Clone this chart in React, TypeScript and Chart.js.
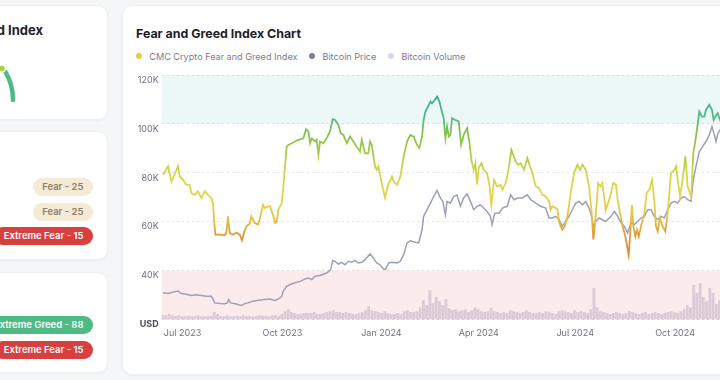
import React, { useEffect, useRef } from 'react';
import { Chart, registerables } from 'chart.js';

Chart.register(...registerables);

// ---------- data ----------
const START_DATE = '2023-06-29';
const X_MAX_DAY = 527;

const xTickDates = ['2023-07-01', '2023-10-01', '2024-01-01', '2024-04-01', '2024-07-01', '2024-10-01'];
const xTickLabels = ['Jul 2023', 'Oct 2023', 'Jan 2024', 'Apr 2024', 'Jul 2024', 'Oct 2024'];

// CMC Crypto Fear and Greed Index (days since START_DATE, index value)
const indexDays = [
  1.2, 5.9, 9.0, 10.5, 15.2, 16.8, 19.9, 23.0, 26.1, 27.6, 30.7, 33.8, 37.0, 40.1, 43.2, 46.3, 47.8, 48.8, 50.0, 54.0,
  58.7, 60.3, 61.8, 63.4, 66.5, 69.6, 72.7, 74.9, 76.7, 78.9, 82.0, 83.6, 86.7, 89.8, 91.3, 94.5, 96.0, 99.1, 101.0, 104.1,
  105.7, 107.2, 108.8, 111.9, 113.4, 116.5, 118.1, 121.2, 124.3, 127.4, 132.1, 134.6, 136.7, 138.3, 139.9, 143.0, 144.5, 146.1, 147.6, 150.7,
  153.8, 156.9, 159.4, 161.6, 164.7, 166.9, 169.4, 172.5, 175.6, 178.7, 181.8, 184.9, 186.5, 189.6, 192.7, 194.2, 195.8, 198.9, 200.4, 202.0,
  205.1, 208.2, 211.0, 213.2, 214.7, 216.3, 219.4, 222.5, 225.6, 228.7, 231.8, 234.9, 238.0, 240.2, 242.7, 244.2, 245.8, 248.3, 250.5, 252.0,
  254.5, 256.7, 258.9, 261.3, 262.9, 264.5, 266.0, 267.6, 269.1, 270.7, 273.8, 276.9, 279.1, 281.5, 284.7, 286.8, 288.7, 290.9, 292.4, 294.0,
  295.5, 298.0, 300.2, 303.3, 305.5, 307.3, 309.8, 312.9, 316.0, 317.6, 320.7, 323.8, 326.0, 327.8, 330.0, 332.2, 334.7, 337.8, 340.9, 343.4,
  345.5, 348.7, 351.8, 354.9, 358.0, 361.1, 362.6, 364.2, 367.3, 368.9, 370.4, 372.0, 373.5, 375.7, 378.2, 381.3, 384.4, 387.5, 390.0, 392.2,
  395.3, 398.4, 400.6, 402.4, 403.7, 405.5, 406.8, 409.3, 410.8, 412.4, 413.9, 416.7, 418.9, 421.0, 423.5, 425.1, 427.3, 429.7, 432.2, 435.3,
  436.6, 438.4, 439.7, 441.6, 443.1, 444.7, 446.8, 450.0, 452.1, 454.6, 457.1, 459.3, 460.8, 462.4, 464.5, 467.0, 469.5, 471.7, 474.8, 477.9,
  479.5, 481.0, 483.2, 485.7, 488.2, 490.3, 493.5, 495.6, 498.1, 501.2, 503.7, 505.9, 507.4, 510.5, 513.0, 514.6, 516.1, 518.3, 520.5, 523.0,
];
const indexValues = [
  59.2, 62.6, 56.5, 57.8, 62.6, 58.5, 57.1, 55.1, 55.1, 51.7, 51.0, 52.4, 49.7, 52.4, 51.0, 49.7, 47.6, 40.8, 34.7, 34.7,
  34.4, 35.4, 42.2, 35.4, 34.7, 35.6, 34.7, 32.4, 35.4, 38.1, 39.2, 42.2, 39.5, 38.8, 40.8, 46.9, 45.6, 46.3, 46.3, 42.2,
  39.5, 40.1, 44.9, 47.6, 54.4, 70.7, 71.4, 72.1, 72.8, 73.5, 74.1, 77.8, 76.9, 72.1, 74.1, 72.8, 73.5, 67.3, 72.8, 72.1,
  74.1, 76.9, 81.9, 81.6, 79.6, 76.2, 75.5, 72.1, 74.8, 72.8, 70.7, 68.7, 73.5, 68.0, 68.0, 72.8, 71.4, 62.6, 61.2, 62.6,
  55.8, 49.7, 55.1, 57.1, 58.5, 56.5, 55.1, 58.5, 66.7, 72.8, 75.5, 74.8, 71.4, 70.1, 74.8, 81.6, 85.0, 87.1, 89.1, 88.4,
  89.8, 91.2, 89.1, 85.0, 82.3, 74.1, 78.9, 74.8, 75.5, 82.3, 81.6, 81.0, 71.4, 75.5, 78.2, 72.8, 65.3, 61.2, 63.9, 55.1,
  61.9, 63.9, 61.2, 59.9, 55.1, 46.9, 57.0, 54.4, 55.1, 53.1, 55.8, 62.6, 69.4, 67.3, 64.6, 63.3, 63.9, 61.2, 66.0, 62.6,
  59.9, 54.4, 53.7, 51.0, 50.3, 48.3, 44.9, 46.3, 45.6, 44.9, 40.1, 38.1, 36.7, 38.1, 42.2, 51.7, 59.9, 63.3, 61.2, 63.3,
  61.2, 54.4, 44.9, 32.7, 38.1, 47.6, 55.8, 54.4, 55.8, 50.3, 44.9, 48.3, 51.7, 55.8, 55.1, 49.0, 43.5, 38.1, 34.0, 26.5,
  34.0, 46.9, 38.1, 34.0, 36.7, 34.0, 38.1, 43.5, 51.7, 53.1, 57.1, 48.3, 38.1, 36.1, 41.5, 38.1, 36.1, 43.5, 59.9, 61.2,
  62.6, 57.1, 50.3, 57.1, 66.7, 54.4, 50.3, 68.0, 74.8, 85.0, 83.0, 83.0, 85.7, 87.8, 85.7, 81.6, 83.0, 84.4, 81.6, 83.0,
];

// Bitcoin price, thousand USD (days since START_DATE)
const priceDays = [
  1.2, 5.9, 10.5, 15.2, 18.3, 23.0, 27.6, 32.3, 37.0, 41.6, 46.3, 47.8, 49.4, 54.0, 58.7, 61.2, 62.4, 64.3, 68.0, 71.1,
  74.3, 77.4, 80.5, 85.1, 89.8, 96.0, 100.7, 105.7, 108.8, 111.9, 113.4, 116.5, 119.6, 124.3, 129.0, 133.6, 136.7, 139.9, 143.0, 147.6,
  153.8, 157.5, 159.4, 161.6, 164.7, 167.8, 170.9, 174.0, 177.1, 180.2, 183.3, 186.5, 189.6, 194.2, 197.3, 200.4, 203.5, 206.7, 208.5, 211.6,
  214.7, 219.4, 222.5, 225.6, 228.7, 231.8, 236.5, 239.6, 242.7, 244.2, 247.4, 250.5, 253.6, 256.7, 259.8, 262.0, 264.5, 266.0, 269.1, 272.2,
  275.3, 278.4, 281.5, 284.7, 287.8, 290.9, 294.0, 297.1, 300.2, 303.3, 306.4, 308.0, 310.5, 314.5, 317.6, 322.2, 325.3, 328.4, 331.6, 336.2,
  340.9, 344.0, 348.7, 353.3, 358.0, 361.1, 364.2, 367.3, 370.4, 373.5, 376.6, 379.7, 382.8, 386.0, 389.1, 392.2, 395.3, 398.4, 400.6, 402.4,
  404.6, 407.7, 410.8, 413.9, 418.9, 422.0, 425.1, 428.2, 431.3, 434.4, 437.5, 440.6, 443.7, 446.8, 450.0, 453.1, 456.2, 459.3, 462.4, 465.5,
  468.6, 471.7, 474.8, 477.9, 481.0, 484.1, 487.2, 490.3, 493.5, 495.6, 498.1, 501.2, 504.3, 507.4, 510.5, 513.0, 515.2, 516.8, 518.6, 520.5,
  523.0,
];
const priceValues = [
  30.9, 30.6, 31.2, 31.6, 30.6, 30.3, 29.8, 30.1, 29.8, 29.5, 29.5, 28.4, 26.8, 26.5, 26.4, 26.8, 28.2, 26.8, 26.5, 26.1,
  25.7, 26.5, 26.8, 27.5, 27.9, 28.2, 28.4, 27.8, 28.4, 29.5, 31.6, 33.6, 34.3, 35.0, 35.6, 36.6, 37.0, 36.3, 37.7, 38.0,
  39.0, 40.4, 44.1, 43.8, 42.7, 43.4, 42.4, 43.8, 43.4, 44.2, 43.1, 43.4, 44.5, 46.8, 45.2, 43.1, 42.4, 40.7, 40.4, 43.1,
  43.4, 43.1, 43.8, 46.5, 51.3, 52.2, 51.6, 51.3, 56.7, 62.2, 64.9, 67.6, 70.3, 72.8, 69.7, 68.3, 62.9, 68.3, 67.6, 70.3,
  71.0, 66.3, 69.7, 71.4, 68.3, 64.9, 66.3, 66.9, 65.6, 64.2, 62.2, 58.8, 63.5, 63.5, 65.6, 66.3, 71.0, 69.0, 69.7, 69.7,
  71.0, 69.0, 67.6, 66.3, 65.6, 61.5, 61.5, 62.2, 60.8, 58.1, 60.1, 62.2, 64.9, 67.6, 68.3, 66.9, 68.3, 65.6, 62.2, 58.1,
  60.1, 61.5, 60.8, 60.1, 62.2, 64.2, 62.2, 59.5, 58.1, 55.4, 59.5, 58.8, 60.1, 61.5, 62.2, 64.9, 64.9, 62.2, 60.8, 62.2,
  61.5, 64.9, 67.6, 68.3, 67.6, 69.7, 70.3, 69.0, 68.3, 77.1, 82.6, 88.7, 90.7, 92.8, 95.5, 98.9, 95.5, 92.8, 96.2, 97.6,
  97.0,
];

// Bitcoin volume, billion USD, one bar every 3 days from day 1
const volumeStartDay = 1;
const volumeStepDays = 3;
const volumeValues = [
  12, 12, 16, 12, 11, 12, 9, 9, 11, 9,
  9, 12, 9, 9, 9, 11, 22, 16, 11, 9,
  12, 9, 9, 11, 9, 12, 9, 11, 9, 9,
  12, 11, 11, 9, 12, 12, 11, 16, 25, 31,
  22, 19, 16, 17, 19, 19, 19, 22, 16, 16,
  19, 22, 25, 28, 22, 22, 19, 22, 19, 16,
  16, 19, 22, 28, 40, 28, 25, 22, 19, 25,
  19, 16, 16, 19, 16, 25, 28, 22, 22, 25,
  37, 59, 44, 90, 50, 69, 56, 44, 62, 34,
  28, 31, 25, 28, 31, 22, 28, 37, 31, 25,
  22, 25, 34, 25, 22, 19, 22, 19, 28, 25,
  22, 19, 22, 28, 22, 19, 19, 22, 19, 25,
  22, 19, 16, 25, 28, 25, 22, 19, 28, 22,
  25, 22, 19, 31, 97, 37, 25, 22, 19, 16,
  19, 22, 19, 16, 19, 25, 22, 19, 16, 19,
  22, 16, 19, 22, 19, 16, 19, 22, 25, 22,
  19, 25, 31, 44, 37, 106, 81, 112, 69, 56,
  97, 81, 47, 59, 44,
];

const priceTicksMin = 20;
const priceTicksMax = 120;
const priceTickStep = 20;

// ---------- helpers ----------
const dayOf = (iso: string) => Math.round((Date.parse(iso) - Date.parse(START_DATE)) / 86400000);
const xTickDays = xTickDates.map(dayOf);

const zonesPlugin = {
  id: 'zones',
  beforeDatasetsDraw(chart: any) {
    const { ctx, chartArea: a, scales } = chart;
    const s = scales.yIndex;
    ctx.save();
    ctx.fillStyle = 'rgba(30,180,140,0.09)';
    const t1 = s.getPixelForValue(100);
    const b1 = s.getPixelForValue(80);
    ctx.fillRect(a.left, t1, a.right - a.left, b1 - t1);
    ctx.fillStyle = 'rgba(232,70,80,0.11)';
    const t2 = s.getPixelForValue(20);
    const b2 = s.getPixelForValue(0);
    ctx.fillRect(a.left, t2, a.right - a.left, b2 - t2);
    ctx.restore();
  },
};

function indexGradient(ctx: any) {
  const chart = ctx.chart;
  if (!chart.chartArea) return '#e3d14c';
  const s = chart.scales.yIndex;
  const g = chart.ctx.createLinearGradient(0, s.getPixelForValue(0), 0, s.getPixelForValue(100));
  g.addColorStop(0, '#e05a36');
  g.addColorStop(0.25, '#e0852c');
  g.addColorStop(0.34, '#df9a35');
  g.addColorStop(0.42, '#e5c443');
  g.addColorStop(0.5, '#e6d34d');
  g.addColorStop(0.6, '#d2d64c');
  g.addColorStop(0.68, '#a9cd45');
  g.addColorStop(0.76, '#82c44b');
  g.addColorStop(0.84, '#4fb88a');
  g.addColorStop(1, '#2aa99a');
  return g;
}

const Dot = ({ color }: { color: string }) => (
  <span style={{ display: 'inline-block', width: 6, height: 6, borderRadius: 3, background: color }} />
);

const Pill = ({ text, bg, color, top }: { text: string; bg: string; color: string; top: number }) => (
  <div
    style={{
      position: 'absolute', top, right: 627, height: 18, lineHeight: '18px', padding: '0 9.5px',
      borderRadius: 9, background: bg, color, fontSize: 9.5, fontWeight: 600, whiteSpace: 'nowrap',
    }}
  >
    {text}
  </div>
);

const card: React.CSSProperties = {
  position: 'absolute', background: '#ffffff', borderRadius: 10, border: '1px solid #eef0f3',
  boxShadow: '0 1px 3px rgba(20,20,40,0.04)', boxSizing: 'border-box',
};

export default function App() {
  const ref = useRef<HTMLCanvasElement>(null);

  useEffect(() => {
    document.body.style.margin = '0';
    if (!ref.current) return;
    const labelFor: Record<number, string> = {};
    xTickDays.forEach((d, i) => (labelFor[d] = xTickLabels[i]));

    const chart = new Chart(ref.current, {
      type: 'line',
      data: {
        datasets: [
          {
            type: 'line',
            label: 'CMC Crypto Fear and Greed Index',
            data: indexDays.map((d, i) => ({ x: d, y: indexValues[i] })),
            yAxisID: 'yIndex',
            borderColor: indexGradient as any,
            borderWidth: 1.8,
            pointRadius: 0,
            tension: 0,
            order: 0,
          },
          {
            type: 'line',
            label: 'Bitcoin Price',
            data: priceDays.map((d, i) => ({ x: d, y: priceValues[i] })),
            yAxisID: 'yPrice',
            borderColor: '#9da0b5',
            borderWidth: 1.5,
            pointRadius: 0,
            tension: 0,
            order: 1,
          },
          {
            type: 'bar',
            label: 'Bitcoin Volume',
            data: volumeValues.map((v, i) => ({ x: volumeStartDay + i * volumeStepDays, y: v })),
            yAxisID: 'yVol',
            backgroundColor: 'rgba(155,145,175,0.36)',
            barThickness: 2.2,
            order: 2,
          } as any,
        ],
      },
      options: {
        responsive: false,
        animation: false,
        devicePixelRatio: 1,
        layout: { padding: { top: 13, right: 15, left: 0, bottom: 0 } },
        plugins: { legend: { display: false }, tooltip: { enabled: false } },
        scales: {
          x: {
            type: 'linear',
            min: 0,
            max: X_MAX_DAY,
            offset: false,
            grid: { display: false, drawTicks: false },
            border: { display: false },
            afterBuildTicks: (s: any) => {
              s.ticks = xTickDays.map((v) => ({ value: v }));
            },
            afterFit: (s: any) => {
              s.height = 32.5;
            },
            ticks: {
              autoSkip: false,
              maxRotation: 0,
              align: 'start',
              padding: 8,
              color: '#6e7180',
              font: { family: 'Inter', size: 9 },
              callback: (v: any) => labelFor[v] ?? '',
            },
          } as any,
          yPrice: {
            type: 'linear',
            position: 'left',
            min: priceTicksMin,
            max: priceTicksMax,
            afterFit: (s: any) => {
              s.width = 39.7;
            },
            grid: { color: '#e2e3e9', drawTicks: false },
            border: { display: false, dash: [2, 3] },
            ticks: {
              stepSize: priceTickStep,
              padding: 3,
              labelOffset: 5,
              callback: (v: any) => (v === priceTicksMin ? 'USD' : `${v}K`),
              color: (c: any) => (c.tick && c.tick.value === priceTicksMin ? '#4d505c' : '#6e7180'),
              font: (c: any) => ({
                family: 'Inter',
                size: 9,
                weight: c.tick && c.tick.value === priceTicksMin ? 'bold' : 'normal',
              }),
            },
          } as any,
          yIndex: { type: 'linear', min: 0, max: 100, display: false },
          yVol: { type: 'linear', min: 0, max: 760, display: false },
        },
      },
      plugins: [zonesPlugin],
    });
    return () => chart.destroy();
  }, []);

  return (
    <div
      style={{
        position: 'fixed', left: 0, top: 0, width: 720, height: 380, overflow: 'hidden',
        background: '#f5f6f8', fontFamily: 'Inter, sans-serif',
      }}
    >
      {/* left column cards (partially off screen) */}
      <div style={{ ...card, left: -200, top: 5, width: 308, height: 115 }} />
      <div
        style={{
          position: 'absolute', right: 677, top: 22, fontSize: 13, lineHeight: '16px', fontWeight: 700,
          color: '#1f2030', whiteSpace: 'nowrap',
        }}
      >
        Fear and Greed Index
      </div>
      <svg style={{ position: 'absolute', left: 0, top: 0 }} width={40} height={120}>
        <path d="M 5.6 72.2 A 55.6 55.6 0 0 1 13 100" fill="none" stroke="#4fba87" strokeWidth={4.5} strokeLinecap="round" />
        <circle cx={2} cy={68.5} r={3.4} fill="#aecf37" stroke="#ffffff" strokeWidth={1.2} />
      </svg>

      <div style={{ ...card, left: -200, top: 131, width: 308, height: 129 }} />
      <Pill text="Fear - 25" bg="#f5ead6" color="#8d7f68" top={178} />
      <Pill text="Fear - 25" bg="#f5ead6" color="#8d7f68" top={203} />
      <Pill text="Extreme Fear - 15" bg="#d8403f" color="#ffffff" top={227} />

      <div style={{ ...card, left: -200, top: 272, width: 308, height: 101 }} />
      <Pill text="Extreme Greed - 88" bg="#4fbb84" color="#ffffff" top={316} />
      <Pill text="Extreme Fear - 15" bg="#d8403f" color="#ffffff" top={341} />

      {/* main card */}
      <div style={{ ...card, left: 122, top: 5, width: 660, height: 370 }} />
      <div
        style={{
          position: 'absolute', left: 136, top: 26, fontSize: 12.4, lineHeight: '16px', fontWeight: 700,
          color: '#1c1d29', whiteSpace: 'nowrap',
        }}
      >
        Fear and Greed Index Chart
      </div>
      <div
        style={{
          position: 'absolute', left: 136.3, top: 50, height: 12, display: 'flex', alignItems: 'center',
          fontSize: 9.1, color: '#7b7e8d', whiteSpace: 'nowrap',
        }}
      >
        <Dot color="#e3cd3e" />
        <span style={{ marginLeft: 7, marginRight: 12 }}>CMC Crypto Fear and Greed Index</span>
        <Dot color="#7d8092" />
        <span style={{ marginLeft: 7, marginRight: 12 }}>Bitcoin Price</span>
        <Dot color="#d6d8e3" />
        <span style={{ marginLeft: 7 }}>Bitcoin Volume</span>
      </div>
      <canvas ref={ref} width={620} height={290} style={{ position: 'absolute', left: 122, top: 62 }} />
    </div>
  );
}
